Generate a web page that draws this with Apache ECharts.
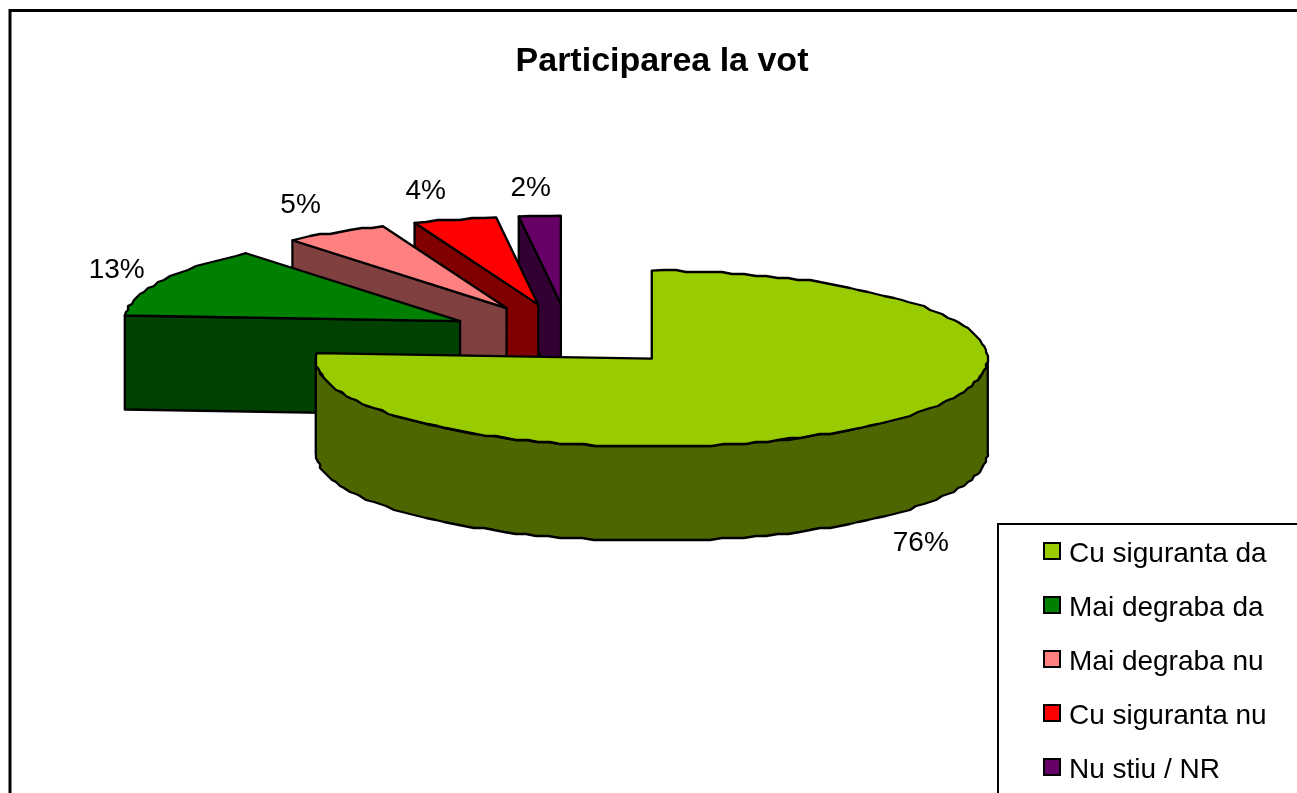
<!DOCTYPE html>
<html>
<head>
<meta charset="utf-8">
<title>Participarea la vot</title>
<script src="https://cdn.jsdelivr.net/npm/echarts@6/dist/echarts.min.js"></script>
<style>
  html, body { margin: 0; padding: 0; width: 1297px; height: 793px; overflow: hidden; background: #fff; }
  /* mai mare decat fereastra: cadrul si legenda ies din poza, ca in original */
  #chart { width: 1420px; height: 920px; }
</style>
</head>
<body>
<div id="chart"></div>
<script>
const categories = ['Cu siguranta da', 'Mai degraba da', 'Mai degraba nu', 'Cu siguranta nu', 'Nu stiu / NR']
const values = [76, 13, 5, 4, 2]
const topColors = ['#99CC00', '#008000', '#FF8080', '#FF0000', '#660066']
const sideColors = ['#4D6600', '#004000', '#804040', '#800000', '#330033']

// geometria placintei 3D
const cx = 568.5
const cy = 335.5
const rx = 336
const ry = 88
const depth = 94
const explode = 0.362
const snap = 2
const font = '28px "Liberation Sans", Arial, sans-serif'
// deplasarea etichetei fata de marginea feliei
const labelNudge = [[39, 26], [-44, -11], [-35, -27], [-29, -28], [-9, -28]]

const total = values.reduce((a, b) => a + b, 0)
const rad = d => d * Math.PI / 180

function sliceAngles(i) {
  let start = 0
  for (let k = 0; k < i; k++) start += values[k] / total * 360
  return [start, start + values[i] / total * 360]
}

function onRim(ox, oy, deg) {
  return [ox + rx * Math.sin(rad(deg)), oy - ry * Math.cos(rad(deg))]
}

// arcul e esantionat grosier, marginea iese zimtata ca in original
function rim(ox, oy, from, to) {
  const pts = []
  const n = Math.max(1, Math.round(Math.abs(to - from) / 2))
  for (let k = 0; k <= n; k++) {
    const p = onRim(ox, oy, from + (to - from) * k / n)
    if (k === 0 || k === n) pts.push(p)
    else pts.push([Math.round(p[0] / snap) * snap, Math.round(p[1] / snap) * snap])
  }
  return pts
}

function shape(points, fill) {
  return {
    type: 'polygon',
    shape: { points: points },
    style: { fill: fill, stroke: '#000', lineWidth: 2.3, lineJoin: 'round' }
  }
}

function renderSlice(i) {
  return function() {
    const [a0, a1] = sliceAngles(i)
    const mid = (a0 + a1) / 2
    const ox = cx + explode * rx * Math.sin(rad(mid))
    const oy = cy - explode * ry * Math.cos(rad(mid))
    const children = []

    // peretele exterior, doar partea din fata
    const f0 = Math.max(a0, 90)
    const f1 = Math.min(a1, 270)
    if (f1 > f0) {
      const upper = rim(ox, oy, f0, f1)
      const lower = rim(ox, oy + depth, f0, f1).reverse()
      children.push(shape(upper.concat(lower), sideColors[i]))
    }
    // peretele radial de la inceputul feliei
    if (i > 0) {
      const p = onRim(ox, oy, a0)
      children.push(shape([p, [ox, oy], [ox, oy + depth], [p[0], p[1] + depth]], sideColors[i]))
    }
    // fata de sus
    children.push(shape([[ox, oy]].concat(rim(ox, oy, a0, a1)), topColors[i]))

    // eticheta
    const edge = onRim(ox, oy + (mid > 90 && mid < 270 ? depth : 0), mid)
    children.push({
      type: 'text',
      style: {
        text: values[i] + '%',
        x: edge[0] + labelNudge[i][0],
        y: edge[1] + labelNudge[i][1],
        align: 'center',
        verticalAlign: 'middle',
        font: font,
        fill: '#000'
      }
    })
    return { type: 'group', children: children }
  }
}

const chart = echarts.init(document.getElementById('chart'), null, { renderer: 'canvas' })
chart.setOption({
  animation: false,
  backgroundColor: '#fff',
  title: {
    text: 'Participarea la vot',
    left: 662,
    top: 45,
    textAlign: 'center',
    padding: 0,
    textStyle: { color: '#000', fontFamily: '"Liberation Sans", Arial, sans-serif', fontWeight: 'bold', fontSize: 34 }
  },
  legend: {
    orient: 'vertical',
    left: 998,
    top: 524,
    data: categories,
    selectedMode: false,
    icon: 'rect',
    itemWidth: 16,
    itemHeight: 16,
    itemGap: 26,
    padding: [16, 150, 60, 45],
    backgroundColor: '#fff',
    borderColor: '#000',
    borderWidth: 2,
    itemStyle: { borderColor: '#000', borderWidth: 2 },
    formatter: name => '{t|' + name + '}',
    textStyle: {
      color: '#000',
      fontFamily: '"Liberation Sans", Arial, sans-serif',
      fontSize: 28,
      rich: {
        t: {
          color: '#000',
          fontFamily: '"Liberation Sans", Arial, sans-serif',
          fontSize: 28,
          padding: [6, 0, 0, 4]
        }
      }
    }
  },
  graphic: [{
    type: 'rect',
    z: -1,
    shape: { x: 10, y: 10.5, width: 1500, height: 1000 },
    style: { fill: 'none', stroke: '#000', lineWidth: 3 }
  }],
  series: categories.map((name, i) => ({
    type: 'custom',
    name: name,
    coordinateSystem: 'none',
    z: 10 - i,
    itemStyle: { color: topColors[i] },
    data: [[values[i]]],
    renderItem: renderSlice(i)
  }))
})
</script>
</body>
</html>
